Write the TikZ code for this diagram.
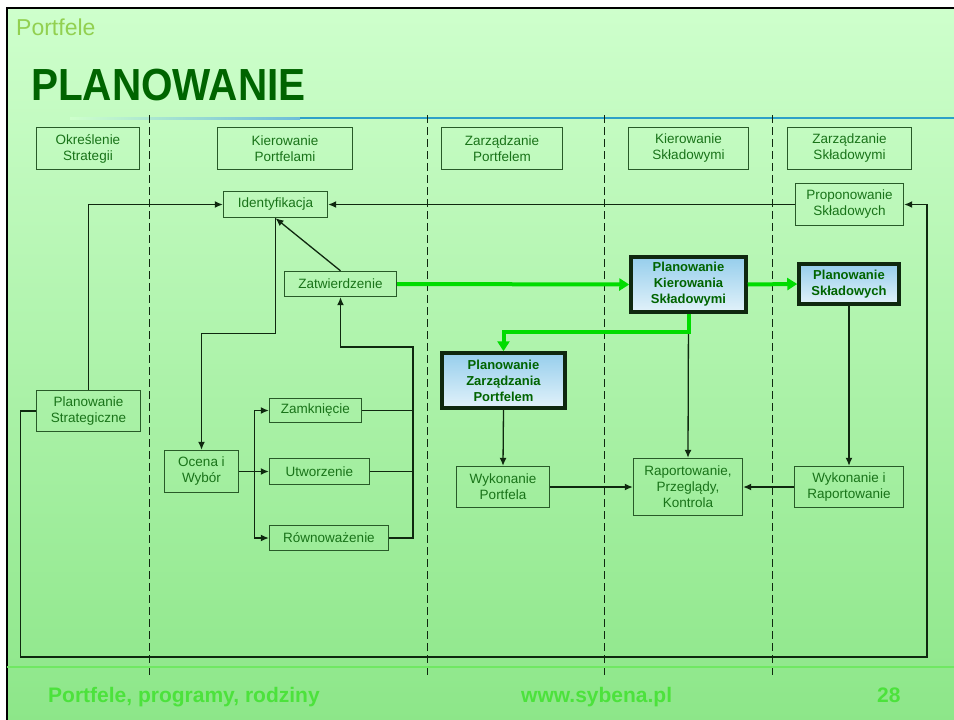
\documentclass[tikz,border=0pt]{standalone}
\usepackage{fontspec}
\setmainfont{Liberation Sans}
\newfontfamily\titlefont[FakeStretch=0.9]{Liberation Sans}
\usetikzlibrary{arrows.meta}
\definecolor{slidetop}{RGB}{206,255,204}
\definecolor{slidemid}{RGB}{184,246,180}
\definecolor{slidebot}{RGB}{140,230,136}
\definecolor{boxgreen}{RGB}{40,90,40}
\definecolor{textgreen}{RGB}{25,115,25}
\definecolor{titlegreen}{RGB}{0,100,0}
\definecolor{lightgreen}{RGB}{146,208,80}
\definecolor{footgreen}{RGB}{76,226,60}
\definecolor{flowgreen}{RGB}{0,220,0}
\definecolor{titleblue}{RGB}{46,160,200}
\definecolor{keytop}{RGB}{150,206,236}
\definecolor{keybot}{RGB}{226,242,250}
\definecolor{lineblack}{RGB}{15,40,15}

\begin{document}
\begin{tikzpicture}[x=1pt, y=-1pt,
    every node/.style={font=\fontsize{13.5}{16}\selectfont, text=textgreen, align=center, inner sep=0pt},
    box/.style={draw=boxgreen, line width=1.4pt},
    keybox/.style={draw=lineblack, line width=3.5pt, top color=keytop, bottom color=keybot, font=\fontsize{13}{16}\selectfont\bfseries, text=titlegreen},
    link/.style={draw=lineblack, line width=1.3pt},
    flow/.style={link, -{Latex[length=8pt,width=7pt]}},
    green flow/.style={draw=flowgreen, line width=4pt, -{Triangle[length=10pt,width=12pt]}},
    lane/.style={draw=lineblack, line width=1pt, dash pattern=on 8pt off 4pt}]

    % === Slide background ===
    \useasboundingbox (0,0) rectangle (954,720);
    \clip (0,0) rectangle (954,720);
    \fill[white] (0,0) rectangle (954,720);
    \shade[top color=slidetop, middle color=slidemid, bottom color=slidebot] (7,8) rectangle (960,730);
    \draw[line width=2pt, black] (7,730) |- (960,8);

    \node[anchor=base west, font=\fontsize{23}{26}\selectfont, text=lightgreen] (section) at (16,35) {Portfele};
    \node[anchor=base west, font=\titlefont\fontsize{45}{50}\selectfont\bfseries, text=titlegreen] (title) at (31,100) {PLANOWANIE};
    \shade[left color=slidetop, right color=titleblue!70] (70,117) rectangle (300,119.5);
    \draw[line width=2.5pt, titleblue] (300,118) -- (954,118);

    % === Lanes ===
    \foreach \x in {149,427,604,772}
        \draw[lane] (\x,115) -- (\x,678);

    \draw[line width=2pt, footgreen!80!white] (7,667) -- (954,667);

    % === Lane headers ===
    \node[box, minimum width=103pt, minimum height=42pt] (okr) at (88,148.5) {Określenie\\Strategii};
    \node[box, minimum width=135pt, minimum height=42pt] (kpo) at (285,148.5) {Kierowanie\\Portfelami};
    \node[box, minimum width=121pt, minimum height=42pt] (zpo) at (502,148.5) {Zarządzanie\\Portfelem};
    \node[box, minimum width=120pt, minimum height=42pt] (ksk) at (688.5,148.5) {Kierowanie\\Składowymi};
    \node[box, minimum width=124pt, minimum height=42pt] (zsk) at (849.5,148.5) {Zarządzanie\\Składowymi};

    % === Process boxes ===
    \node[box, minimum width=104pt, minimum height=26pt] (ident) at (275.5,204.5) {Identyfikacja};
    \node[box, minimum width=112pt, minimum height=25pt] (zatw) at (340.5,284) {Zatwierdzenie};
    \node[box, minimum width=108pt, minimum height=42pt] (prop) at (849.5,204.5) {Proponowanie\\Składowych};
    \node[box, minimum width=104pt, minimum height=41pt] (pstr) at (88.5,411) {Planowanie\\Strategiczne};
    \node[box, minimum width=74pt, minimum height=42pt] (ocena) at (201.5,471.5) {Ocena i\\Wybór};
    \node[box, minimum width=92pt, minimum height=24pt] (zamk) at (315.5,410.5) {Zamknięcie};
    \node[box, minimum width=100pt, minimum height=26pt] (utw) at (319.5,471.5) {Utworzenie};
    \node[box, minimum width=119pt, minimum height=25pt] (rown) at (329,538) {Równoważenie};
    \node[box, minimum width=93pt, minimum height=41pt] (wpo) at (503,487) {Wykonanie\\Portfela};
    \node[box, minimum width=109pt, minimum height=57pt] (rap) at (688,487) {Raportowanie,\\Przeglądy,\\Kontrola};
    \node[box, minimum width=109pt, minimum height=41pt] (wir) at (849,487) {Wykonanie i\\Raportowanie};

    \node[keybox, minimum width=115pt, minimum height=55pt] (pks) at (688.5,284.5) {Planowanie\\Kierowania\\Składowymi};
    \node[keybox, minimum width=100pt, minimum height=40pt] (psk) at (849,284) {Planowanie\\Składowych};
    \node[keybox, minimum width=123pt, minimum height=55pt] (pzp) at (503.5,380.5) {Planowanie\\Zarządzania\\Portfelem};

    \coordinate (fork) at ([xshift=15pt]ocena.east);
    \coordinate (join) at (413,347);
    \coordinate (loop) at (927,657);

    % === Connectors ===
    \draw[flow] (pstr.north) |- (ident.west);
    \draw[flow] (prop.west) -- (ident.east);
    \draw[flow] (zatw.north) -- (ident.south);
    \draw[flow] (ident.south) -- ++(0,115) -| (ocena.north);

    \draw[link] (ocena.east) -- (fork);
    \draw[flow] (fork) |- (zamk.west);
    \draw[flow] (fork) -- (utw.west);
    \draw[flow] (fork) |- (rown.west);

    \draw[link] (zamk.east) -- (zamk.east -| join);
    \draw[link] (utw.east) -- (utw.east -| join);
    \draw[flow] (rown.east) -| (join) -| (zatw.south);

    \draw[flow] (pks.south) -- (rap.north);
    \draw[flow] (pzp.south) -- (wpo.north);
    \draw[flow] (psk.south) -- (wir.north);
    \draw[flow] (wpo.east) -- (rap.west);
    \draw[flow] (wir.west) -- (rap.east);
    \draw[flow] (pstr.west) -- ++(-15.5,0) |- (loop) |- (prop.east);

    \draw[green flow] (zatw.east) -- (pks.west);
    \draw[green flow] (pks.east) -- (psk.west);
    \draw[green flow] (pks.south) -- ++(0,18) -| (pzp.north);

    % === Footer ===
    \node[anchor=base west, font=\fontsize{21}{24}\selectfont\bfseries, text=footgreen] (foot1) at (48,702) {Portfele, programy, rodziny};
    \node[anchor=base west, font=\fontsize{21}{24}\selectfont\bfseries, text=footgreen] (foot2) at (521,702) {www.sybena.pl};
    \node[anchor=base west, font=\fontsize{21}{24}\selectfont\bfseries, text=footgreen] (foot3) at (877,702) {28};
\end{tikzpicture}
\end{document}
